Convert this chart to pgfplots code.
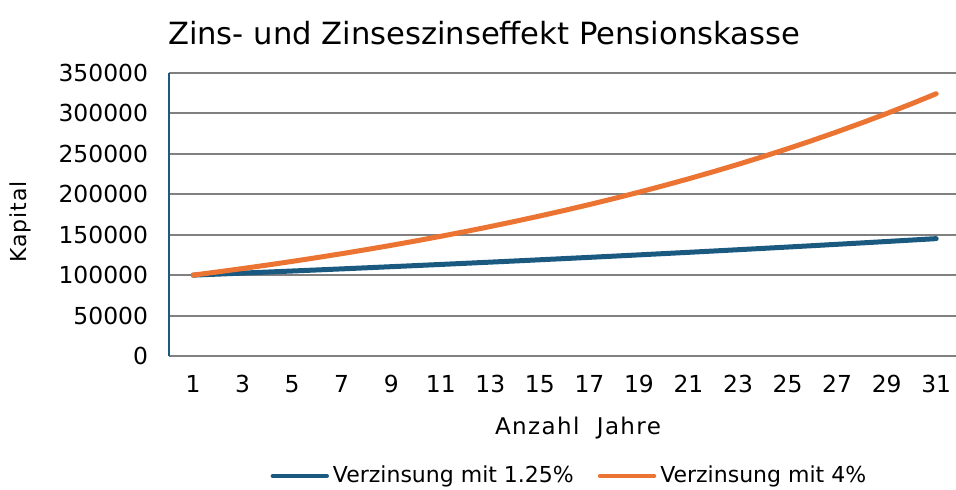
\documentclass[border=0pt]{standalone}
\usepackage{fontspec}
\setmainfont{DejaVu Sans}
\usepackage{pgfplots}
\pgfplotsset{compat=1.18}
\definecolor{cblue}{RGB}{27,90,128}
\definecolor{corange}{RGB}{236,116,50}
\definecolor{cgrid}{RGB}{128,128,128}
\begin{document}
\begin{tikzpicture}[x=1pt,y=1pt]
\useasboundingbox (0,0) rectangle (478,245);
\begin{axis}[at={(84.5pt,67pt)}, anchor=south west, scale only axis,
  width=393.5pt, height=141.5pt,
  xmin=0.03, xmax=31.8, ymin=0, ymax=350000,
  xtick={1,3,...,31}, ytick={0,50000,...,350000},
  scaled y ticks=false,
  /pgf/number format/assume math mode=true,
  yticklabel style={/pgf/number format/fixed, /pgf/number format/1000 sep={}, xshift=-7pt},
  xticklabel style={yshift=-6pt},
  tick label style={font=\fontsize{11.7}{13}\selectfont},
  axis line style={draw=none},
  major tick length=0pt,
  ymajorgrids, major grid style={cgrid, line width=1pt},
  clip=false,
  legend columns=2,
  legend style={draw=none, fill=none, at={(0.51,-0.424)}, anchor=center,
    font=\fontsize{11}{13}\selectfont,
    /tikz/every even column/.append style={column sep=10pt}},
  legend image code/.code={\draw[#1, line width=2.2pt, line cap=round] (0pt,0pt) -- (27pt,0pt);},
]
\draw[cblue, line width=1pt] (rel axis cs:0,0) -- (rel axis cs:0,1);
\addplot[cblue, line width=2.5pt, line cap=round, line join=round] coordinates {
(1,100000) (2,101250) (3,102516) (4,103797) (5,105095) (6,106408) (7,107738) (8,109085)
(9,110449) (10,111829) (11,113227) (12,114643) (13,116076) (14,117527) (15,118996) (16,120483)
(17,121989) (18,123514) (19,125058) (20,126621) (21,128204) (22,129807) (23,131429) (24,133072)
(25,134736) (26,136420) (27,138125) (28,139852) (29,141600) (30,143370) (31,145162)};
\addlegendentry{Verzinsung mit 1.25\%}
\addplot[corange, line width=2.5pt, line cap=round, line join=round] coordinates {
(1,100000) (2,104000) (3,108160) (4,112486) (5,116986) (6,121665) (7,126532) (8,131593)
(9,136857) (10,142331) (11,148024) (12,153945) (13,160103) (14,166507) (15,173168) (16,180094)
(17,187298) (18,194790) (19,202582) (20,210685) (21,219112) (22,227877) (23,236992) (24,246472)
(25,256330) (26,266584) (27,277247) (28,288337) (29,299870) (30,311865) (31,324340)};
\addlegendentry{Verzinsung mit 4\%}
\end{axis}
\node[font=\fontsize{15.3}{17}\selectfont] at (242,228.5) {Zins- und Zinseszinseffekt Pensionskasse};
\node[font=\fontsize{11.5}{13}\selectfont\addfontfeature{LetterSpace=6}] at (289,31) {Anzahl~~Jahre};
\node[font=\fontsize{11}{13}\selectfont\addfontfeature{LetterSpace=4}, rotate=90] at (10,134) {Kapital};
\end{tikzpicture}
\end{document}
